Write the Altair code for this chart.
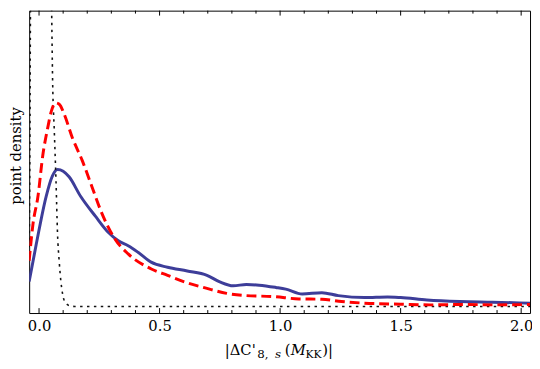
import altair as alt
import pandas as pd

# ---- data ----
blue_x = [-0.041, -0.0114, 0.0294, 0.0552, 0.0768, 0.1001, 0.1246, 0.173, 0.2337, 0.288, 0.3289,
          0.3698, 0.4106, 0.465, 0.5332, 0.6149, 0.6966, 0.7497, 0.8057, 0.8601, 0.9132, 0.9826,
          1.0235, 1.0917, 1.1734, 1.2413, 1.3504, 1.4456, 1.5003, 1.609, 1.7455, 1.8815, 2.0368]
blue_y = [0.253, 0.633, 1.116, 1.323, 1.39, 1.373, 1.316, 1.116, 0.916, 0.75, 0.666,
          0.616, 0.55, 0.45, 0.398, 0.36, 0.316, 0.25, 0.21, 0.223, 0.216, 0.193,
          0.176, 0.126, 0.14, 0.11, 0.09, 0.096, 0.09, 0.066, 0.05, 0.043, 0.033]

red_x = [-0.041, -0.0253, -0.0041, 0.0155, 0.036, 0.0511, 0.0686, 0.0838, 0.1042, 0.1381, 0.179,
         0.2198, 0.2594, 0.3154, 0.3698, 0.4637, 0.5332, 0.6149, 0.6966, 0.7783, 0.8601, 0.9745,
         1.0779, 1.1734, 1.2552, 1.3504, 1.5003, 1.6229, 1.7589, 1.8938, 2.0368]
red_y = [0.463, 0.833, 1.123, 1.533, 1.813, 1.983, 2.066, 2.053, 1.953, 1.713, 1.483,
         1.213, 0.953, 0.683, 0.533, 0.383, 0.316, 0.24, 0.183, 0.133, 0.11, 0.1,
         0.076, 0.073, 0.05, 0.033, 0.023, 0.016, 0.02, 0.016, 0.02]

dot_x = [-0.041, -0.038, -0.0355, -0.034, 0.049, 0.0519, 0.0564, 0.0633, 0.0703, 0.0768, 0.0838,
         0.0907, 0.0981, 0.1042, 0.1246, 0.149, 0.5, 1.0, 1.5, 2.0368]
dot_y = [0.533, 1.583, 3.08, 3.6, 3.6, 3.083, 2.283, 1.783, 1.283, 0.733, 0.453,
         0.253, 0.123, 0.063, 0.01, 0.0, 0.0, 0.0, 0.0, 0.0]

major_ticks = [0.0, 0.5, 1.0, 1.5, 2.0]
minor_ticks = [0.1, 0.2, 0.3, 0.4, 0.6, 0.7, 0.8, 0.9, 1.1, 1.2, 1.3, 1.4,
               1.6, 1.7, 1.8, 1.9]

x_domain = [-0.0409, 2.0368]
y_domain = [-0.067, 3.003]

FONT = "DejaVu Serif"
W, H = 508.5, 307

xs = alt.Scale(domain=x_domain, nice=False, zero=False)
ys = alt.Scale(domain=y_domain, nice=False, zero=False)

x_axis = alt.Axis(values=major_ticks, format=".1f", title="",
                  ticks=False, domain=False, grid=False,
                  labelFontSize=15, labelPadding=6, labelColor="black",
                  labelFont=FONT)
y_axis = alt.Axis(labels=False, ticks=False, domain=False, grid=False,
                  title="point density", titleFont=FONT, titleFontSize=15,
                  titleFontWeight="normal", titleColor="black",
                  titleX=-13.5, titleY=147, titleAngle=270,
                  titleAlign="center", titleBaseline="middle")

X = alt.X("x:Q", scale=xs, axis=x_axis)
Y = alt.Y("y:Q", scale=ys, axis=y_axis)

dot = alt.Chart(pd.DataFrame({"x": dot_x, "y": dot_y})).mark_line(
    color="#111111", strokeWidth=1.6, strokeDash=[2.5, 4.5], interpolate="monotone", clip=True
).encode(x=X, y=Y)

blue = alt.Chart(pd.DataFrame({"x": blue_x, "y": blue_y})).mark_line(
    color="#3D3D99", strokeWidth=3, interpolate="monotone", clip=True
).encode(x=X, y=Y)

red = alt.Chart(pd.DataFrame({"x": red_x, "y": red_y})).mark_line(
    color="#FF0000", strokeWidth=3, strokeDash=[10, 5], interpolate="monotone", clip=True
).encode(x=X, y=Y)

def tick_layer(vals, length):
    base = alt.Chart(pd.DataFrame({"x": vals}))
    bottom = base.mark_rule(color="black", strokeWidth=1).encode(
        x=X, y=alt.value(H), y2=alt.value(H - length))
    top = base.mark_rule(color="black", strokeWidth=1).encode(
        x=X, y=alt.value(0), y2=alt.value(length))
    return [bottom, top]

ticks = tick_layer(major_ticks, 5) + tick_layer(minor_ticks, 3)

one = pd.DataFrame({"k": [0]})
def label(txt, px, py, size, italic=False):
    return alt.Chart(one).mark_text(
        text=txt, font=FONT, fontSize=size, color="black", align="left", baseline="alphabetic",
        fontStyle="italic" if italic else "normal"
    ).encode(x=alt.value(px), y=alt.value(py))

title_parts = [
    label("|ΔC'", 198.5, 350, 15),
    label("8,", 231.5, 353, 12),
    label("s", 249.5, 353, 12, italic=True),
    label("(", 259.5, 350, 15),
    label("M", 265.5, 350, 15, italic=True),
    label("KK", 280.5, 353, 11),
    label(")|", 297.5, 350, 15),
]

chart = alt.layer(blue, dot, red, *ticks, *title_parts).properties(
    width=W, height=H,
    padding={"left": 21.5, "top": 0, "right": 2, "bottom": 46},
    autosize=alt.AutoSizeParams(type="none"),
).configure_view(stroke="black", strokeWidth=1)

chart.save("out.html", embed_options={"renderer": "svg", "actions": False})
